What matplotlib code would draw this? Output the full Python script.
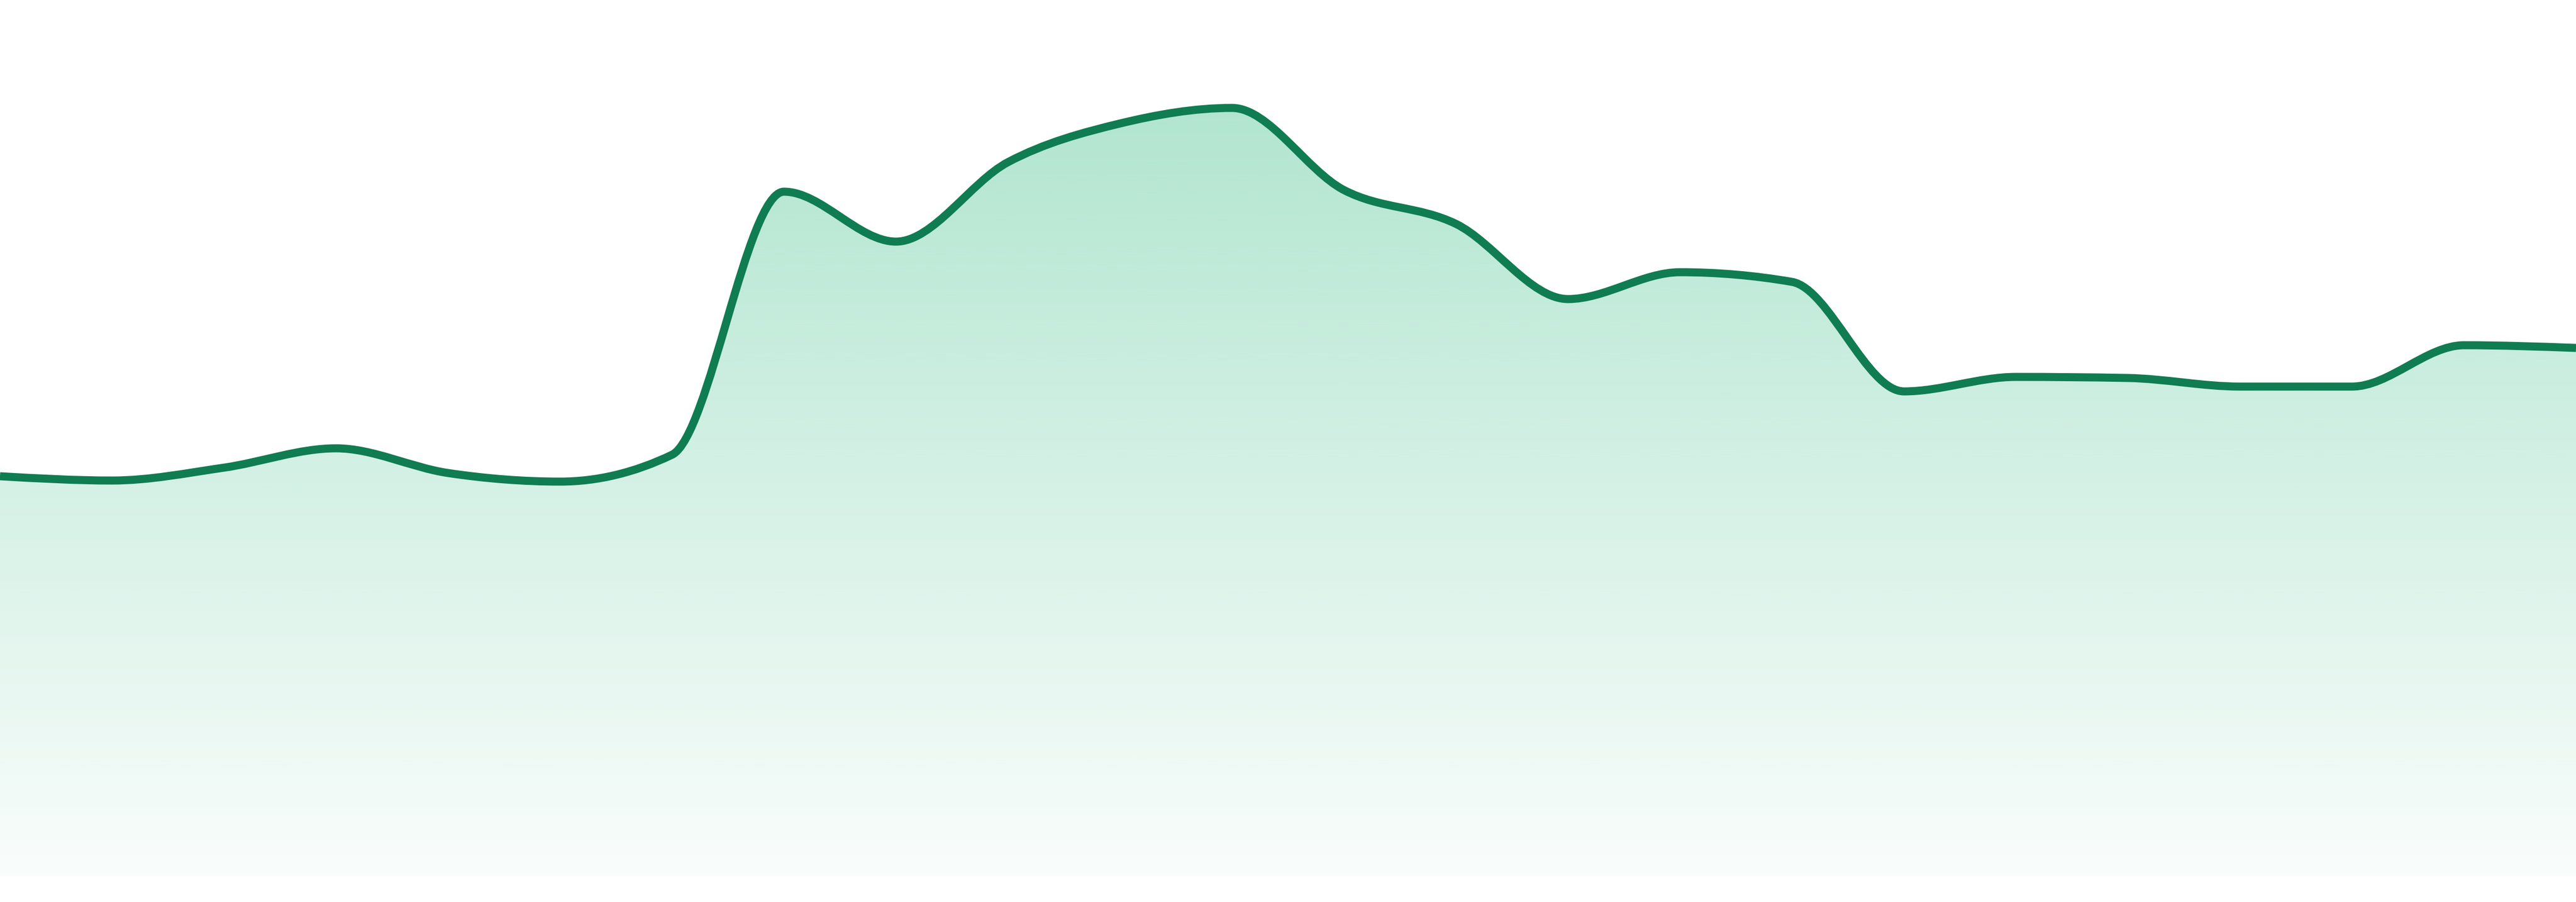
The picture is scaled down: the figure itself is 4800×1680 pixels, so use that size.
import numpy as np
import matplotlib
matplotlib.use("Agg")
import matplotlib.pyplot as plt
from matplotlib.path import Path
from matplotlib.patches import PathPatch
from matplotlib.colors import to_rgb

# series values (arbitrary units, baseline = 0)
values = [74.5, 73.7, 76.1, 79.7, 75.1, 73.5, 78.5, 127.5, 118.2, 133.0, 140.2, 143.1,
          127.8, 121.5, 107.5, 112.5, 110.7, 90.3, 93.0, 92.8, 91.2, 91.2, 98.9, 98.4]
x = np.arange(len(values), dtype=float)
y = np.array(values, dtype=float)

line_color = "#107c52"
fill_color = "#3dbf89"


def sign(v):
    return -1.0 if v < 0 else 1.0


def monotone_tangents(xs, ys):
    # same tangents as d3.curveMonotoneX
    n = len(xs)
    t = np.zeros(n)
    for i in range(1, n - 1):
        h0 = xs[i] - xs[i - 1]
        h1 = xs[i + 1] - xs[i]
        s0 = (ys[i] - ys[i - 1]) / h0
        s1 = (ys[i + 1] - ys[i]) / h1
        p = (s0 * h1 + s1 * h0) / (h0 + h1)
        t[i] = (sign(s0) + sign(s1)) * min(abs(s0), abs(s1), 0.5 * abs(p))
    t[0] = (3 * (ys[1] - ys[0]) / (xs[1] - xs[0]) - t[1]) / 2
    t[-1] = (3 * (ys[-1] - ys[-2]) / (xs[-1] - xs[-2]) - t[-2]) / 2
    return t


def curve_path(xs, ys, close=False):
    t = monotone_tangents(xs, ys)
    verts = [(xs[0], ys[0])]
    codes = [Path.MOVETO]
    for i in range(len(xs) - 1):
        dx = (xs[i + 1] - xs[i]) / 3
        verts += [(xs[i] + dx, ys[i] + dx * t[i]),
                  (xs[i + 1] - dx, ys[i + 1] - dx * t[i + 1]),
                  (xs[i + 1], ys[i + 1])]
        codes += [Path.CURVE4] * 3
    if close:
        verts += [(xs[-1], 0), (xs[0], 0), (xs[0], 0)]
        codes += [Path.LINETO, Path.LINETO, Path.CLOSEPOLY]
    return Path(verts, codes)


fig = plt.figure(figsize=(48, 16.8), dpi=100)
ax = fig.add_axes([0, 0, 1, 1])
ax.set_xlim(x[0], x[-1])
ax.set_ylim(-4.8, 163.2)
ax.axis("off")

# gradient area under the curve
area = PathPatch(curve_path(x, y, close=True), facecolor="none", edgecolor="none")
ax.add_patch(area)
rgb = to_rgb(fill_color)
alpha = np.linspace(0.03, 0.4, 256)
grad = np.zeros((256, 1, 4))
grad[:, 0, :3] = rgb
grad[:, 0, 3] = alpha
img = ax.imshow(grad, extent=[x[0], x[-1], 0, y.max()], origin="lower",
                aspect="auto", interpolation="bilinear", zorder=1)
img.set_clip_path(area)

# line on top
line = PathPatch(curve_path(x, y), facecolor="none", edgecolor=line_color,
                 linewidth=10.8, capstyle="butt", joinstyle="round", zorder=2)
ax.add_patch(line)

fig.savefig("out.png", dpi=100, facecolor="white")
